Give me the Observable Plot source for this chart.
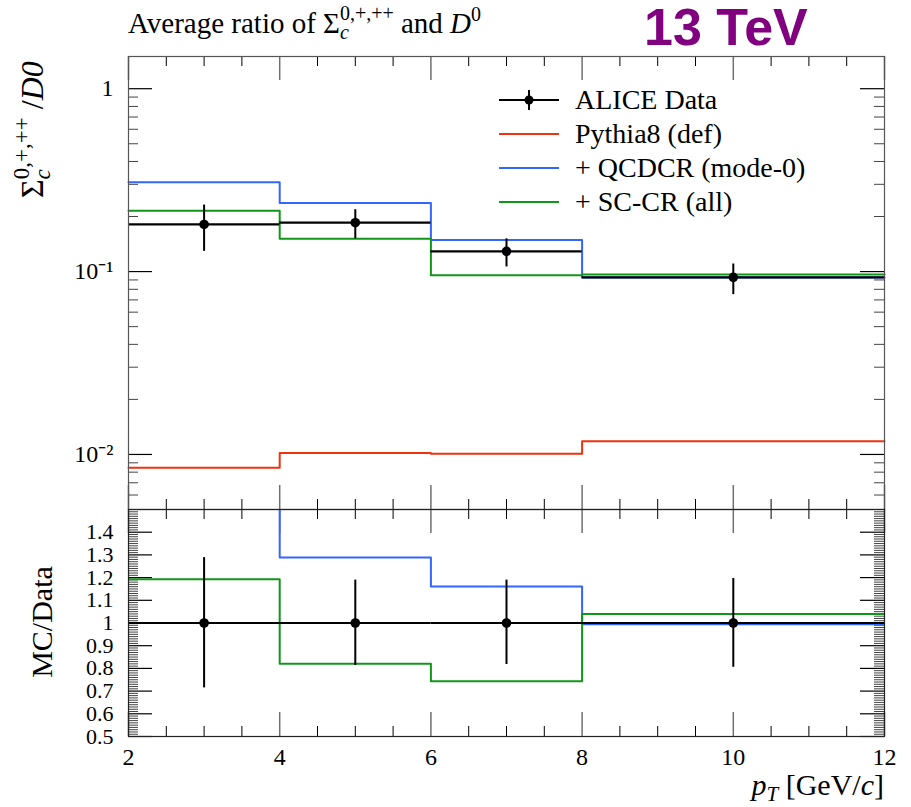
<!DOCTYPE html>
<html><head><meta charset="utf-8">
<script src="https://cdn.jsdelivr.net/npm/d3@7"></script>
<script src="https://cdn.jsdelivr.net/npm/@observablehq/plot@0.6"></script>
<style>
body{margin:0;background:#fff;}
#wrap{position:relative;width:911px;height:807px;}
#wrap svg{position:absolute;left:0;overflow:visible;}
#wrap svg text{font-family:"Liberation Serif",serif;}
</style></head><body><div id="wrap"></div>
<script>
// ---- data ----
const binEdges = [2, 4, 6, 8, 12];
const binCenters = [3, 5, 7, 10];
const aliceData = [0.181, 0.185, 0.129, 0.093];
const aliceErrLo = [0.129, 0.151, 0.106, 0.0748];
const aliceErrHi = [0.231, 0.218, 0.151, 0.110];
const pythiaDef = [0.00846, 0.0102, 0.0101, 0.0118];
const qcdcrMode0 = [0.308, 0.237, 0.149, 0.0927];
const scCrAll = [0.215, 0.151, 0.0955, 0.0964];
// ratio MC/Data
const ratioAlice = [1, 1, 1, 1];
const ratioAliceLo = [0.714, 0.813, 0.817, 0.805];
const ratioAliceHi = [1.288, 1.189, 1.189, 1.196];
const ratioPythia = [0.047, 0.055, 0.078, 0.127];
const ratioQcdcr = [1.70, 1.289, 1.161, 0.994];
const ratioScCr = [1.193, 0.820, 0.743, 1.040];
// ticks
const xMajorTicks = [2, 4, 6, 8, 10, 12];
const xMinorTicks = [2.5, 3, 3.5, 4.5, 5, 5.5, 6.5, 7, 7.5, 8.5, 9, 9.5, 10.5, 11, 11.5];
const xTickLabels = ["2", "4", "6", "8", "10", "12"];
const yUpperMajor = [0.01, 0.1, 1];
const yUpperLabels = ["10\u207B\u00B2", "10\u207B\u00B9", "1"];
const yUpperMinor = [0.005,0.006,0.007,0.008,0.009,0.02,0.03,0.04,0.05,0.06,0.07,0.08,0.09,0.2,0.3,0.4,0.5,0.6,0.7,0.8,0.9];
const yLowerMajor = [0.5, 0.6, 0.7, 0.8, 0.9, 1, 1.1, 1.2, 1.3, 1.4];
const yLowerLabels = ["0.5","0.6","0.7","0.8","0.9","1","1.1","1.2","1.3","1.4"];
const yLowerMinor = d3.range(50, 151).map(d => d / 100).filter(d => Math.round(d*100) % 10 !== 0);

const colors = {data: "#000000", pythia: "#EE3311", qcdcr: "#3366FF", sccr: "#109618"};

function steps(vals) {
  return binEdges.map((e, i) => ({x: e, y: vals[Math.min(i, vals.length - 1)]}));
}
function bins(vals, lo, hi) {
  return vals.map((v, i) => ({x1: binEdges[i], x2: binEdges[i+1], xc: binCenters[i], y: v, lo: lo ? lo[i] : null, hi: hi ? hi[i] : null}));
}

const W = 911, ML = 128, MR = 27;
const frameW = W - ML - MR;
const upTop = 56, upBottom = 509, upH = upBottom - upTop;
const loH = 736 - 509;
const font = '"Liberation Serif", serif';

function tickMarks(frameH, majY, minY) {
  const M = 24, m = 10;
  return [
    Plot.tickX(xMajorTicks, {x: d => d, stroke: "#707070", strokeWidth: 1.5, insetBottom: frameH - M}),
    Plot.tickX(xMajorTicks, {x: d => d, stroke: "#707070", strokeWidth: 1.5, insetTop: frameH - M}),
    Plot.tickX(xMinorTicks, {x: d => d, stroke: "#000", strokeWidth: 1, insetBottom: frameH - m}),
    Plot.tickX(xMinorTicks, {x: d => d, stroke: "#000", strokeWidth: 1, insetTop: frameH - m}),
    Plot.tickY(majY, {y: d => d, stroke: "#000", strokeWidth: 1.2, insetRight: frameW - M}),
    Plot.tickY(majY, {y: d => d, stroke: "#000", strokeWidth: 1.2, insetLeft: frameW - M}),
    Plot.tickY(minY, {y: d => d, stroke: "#444", strokeWidth: 1, insetRight: frameW - m}),
    Plot.tickY(minY, {y: d => d, stroke: "#444", strokeWidth: 1, insetLeft: frameW - m})
  ];
}

const styleObj = {fontFamily: font, fontSize: "24px", color: "#000", background: "transparent", overflow: "visible"};

const upper = Plot.plot({
  width: W, height: upBottom, marginTop: upTop, marginBottom: 0, marginLeft: ML, marginRight: MR,
  x: {domain: [2, 12], axis: null},
  y: {type: "log", domain: [0.005, 1.5], axis: null},
  style: styleObj,
  marks: [
    ...tickMarks(upH, yUpperMajor, yUpperMinor),
    Plot.text(yUpperMajor, {y: d => d, frameAnchor: "left", dx: -15, textAnchor: "end", text: (d, i) => yUpperLabels[i], fontSize: 24, fontFamily: font, fill: "#000"}),
    Plot.line(steps(pythiaDef), {x: "x", y: "y", curve: "step-after", stroke: colors.pythia, strokeWidth: 2}),
    Plot.line(steps(qcdcrMode0), {x: "x", y: "y", curve: "step-after", stroke: colors.qcdcr, strokeWidth: 2}),
    Plot.line(steps(scCrAll), {x: "x", y: "y", curve: "step-after", stroke: colors.sccr, strokeWidth: 2}),
    Plot.ruleY(bins(aliceData), {x1: "x1", x2: "x2", y: "y", stroke: "#000", strokeWidth: 2.2}),
    Plot.ruleX(bins(aliceData, aliceErrLo, aliceErrHi), {x: "xc", y1: "lo", y2: "hi", stroke: "#000", strokeWidth: 2}),
    Plot.dot(bins(aliceData), {x: "xc", y: "y", r: 4.8, fill: "#000"}),
    Plot.frame({stroke: "#555", strokeWidth: 1.2})
  ]
});

const lower = Plot.plot({
  width: W, height: 807 - 509, marginTop: 0, marginBottom: 807 - 736, marginLeft: ML, marginRight: MR,
  x: {domain: [2, 12], axis: null},
  y: {domain: [0.5, 1.5], axis: null},
  style: styleObj,
  marks: [
    ...tickMarks(loH, yLowerMajor, yLowerMinor),
    Plot.axisY(yLowerMajor, {tickSize: 0, tickPadding: 15, tickFormat: (d, i) => yLowerLabels[i], label: null, fontSize: 22, fontFamily: font}),
    Plot.axisX(xMajorTicks, {tickSize: 0, tickPadding: 11, tickFormat: (d, i) => xTickLabels[i], label: null, fontSize: 24, fontFamily: font}),
    Plot.line(steps(ratioPythia), {x: "x", y: "y", curve: "step-after", stroke: colors.pythia, strokeWidth: 2, clip: true}),
    Plot.line(steps(ratioQcdcr), {x: "x", y: "y", curve: "step-after", stroke: colors.qcdcr, strokeWidth: 2, clip: true}),
    Plot.line(steps(ratioScCr), {x: "x", y: "y", curve: "step-after", stroke: colors.sccr, strokeWidth: 2, clip: true}),
    Plot.ruleY(bins(ratioAlice), {x1: "x1", x2: "x2", y: "y", stroke: "#000", strokeWidth: 2.2}),
    Plot.ruleX(bins(ratioAlice, ratioAliceLo, ratioAliceHi), {x: "xc", y1: "lo", y2: "hi", stroke: "#000", strokeWidth: 2}),
    Plot.dot(bins(ratioAlice), {x: "xc", y: "y", r: 4.8, fill: "#000"}),
    Plot.frame({stroke: "#222", strokeWidth: 1.2})
  ]
});

const wrap = document.getElementById("wrap");
upper.style.top = "0px";
lower.style.top = "509px";
wrap.appendChild(upper);
wrap.appendChild(lower);

function txt(sel) {
  return sel.append("text").style("font-family", font).attr("text-anchor", "start").attr("fill", "#000");
}

// ---- texts added to the SVGs ----
const su = d3.select(upper);
// title
const title = txt(su).attr("x", 128).attr("y", 33).style("font-size", "29px");
title.append("tspan").text("Average ratio of \u03A3");
title.append("tspan").style("font-style", "italic").style("font-size", "20px").attr("dy", 6).text("c");
title.append("tspan").style("font-size", "20px").attr("dx", -9).attr("dy", -19).text("0,+,++");
title.append("tspan").attr("dy", 13).text(" and ");
title.append("tspan").style("font-style", "italic").text("D");
title.append("tspan").style("font-size", "20px").attr("dy", -12).text("0");

su.append("text").attr("x", 644).attr("y", 45).attr("text-anchor", "start").style("font-family", '"Liberation Sans", sans-serif').style("font-weight", "bold")
  .style("font-size", "52px").attr("fill", "#800080").text("13 TeV");

// upper y label
const yl = txt(su).attr("transform", "translate(43,198) rotate(-90)").style("font-size", "32px");
yl.append("tspan").text("\u03A3");
yl.append("tspan").style("font-style", "italic").style("font-size", "23px").attr("dy", 7).text("c");
yl.append("tspan").style("font-size", "23px").attr("dx", -10).attr("dy", -21).text("0,+,++");
yl.append("tspan").attr("dy", 14).text(" /");
yl.append("tspan").style("font-style", "italic").text("D0");

// legend
const legendItems = [
  {label: "ALICE Data", color: colors.data, data: true},
  {label: "Pythia8 (def)", color: colors.pythia},
  {label: "+ QCDCR (mode-0)", color: colors.qcdcr},
  {label: "+ SC-CR (all)", color: colors.sccr}
];
const lg = su.append("g");
legendItems.forEach((it, i) => {
  const y = 100 + i * 34;
  lg.append("line").attr("x1", 499).attr("x2", 559).attr("y1", y).attr("y2", y).attr("stroke", it.color).attr("stroke-width", it.data ? 2.2 : 2);
  if (it.data) {
    lg.append("line").attr("x1", 529).attr("x2", 529).attr("y1", y - 10).attr("y2", y + 10).attr("stroke", "#000").attr("stroke-width", 2);
    lg.append("circle").attr("cx", 529).attr("cy", y).attr("r", 4.5).attr("fill", "#000");
  }
  txt(lg).attr("x", 575).attr("y", y + 9).style("font-size", "28px").text(it.label);
});

// lower labels
const sl = d3.select(lower);
txt(sl).attr("transform", "translate(52,113) rotate(-90)").attr("text-anchor", "middle").style("font-size", "30px").text("MC/Data");
const xl = txt(sl).attr("x", 884).attr("y", 286).attr("text-anchor", "end").style("font-size", "30px");
xl.append("tspan").style("font-style", "italic").text("p");
xl.append("tspan").style("font-style", "italic").style("font-size", "21px").attr("dy", 6).text("T");
xl.append("tspan").attr("dy", -6).text(" [GeV/");
xl.append("tspan").style("font-style", "italic").text("c");
xl.append("tspan").text("]");
</script></body></html>
